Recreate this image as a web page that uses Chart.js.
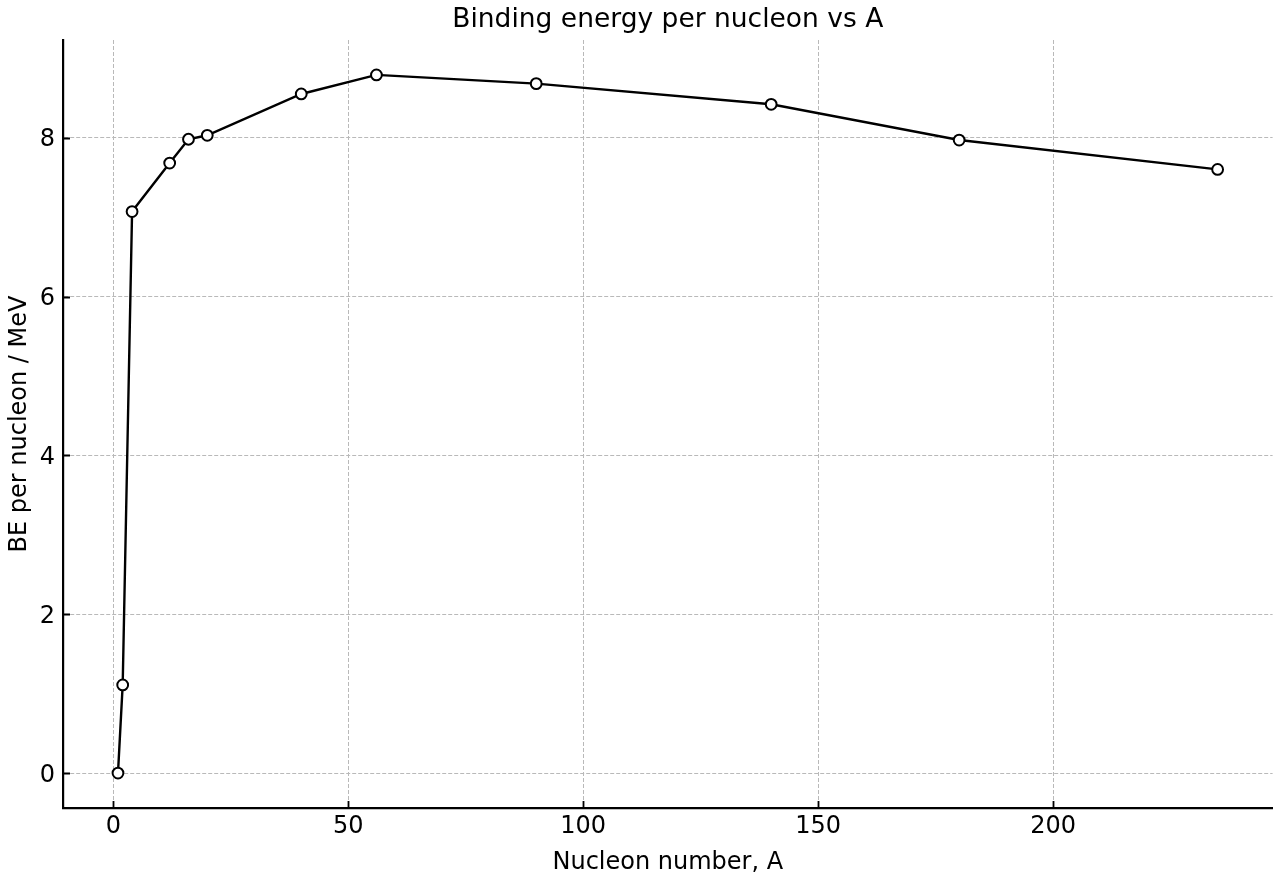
<!DOCTYPE html>
<html>
<head>
<meta charset="utf-8">
<script src="https://cdn.jsdelivr.net/npm/chart.js@4/dist/chart.umd.min.js"></script>
<style>
  html, body { margin: 0; padding: 0; background: #fff; }
  #wrap { width: 1280px; height: 880px; }
</style>
</head>
<body>
<div id="wrap"><canvas id="beChart" width="1280" height="880"></canvas></div>
<script>
// mass number A and binding energy per nucleon (MeV)
const massNumbers = [1, 2, 4, 12, 16, 20, 40, 56, 90, 140, 180, 235];
const bindingEnergy = [0, 1.11, 7.07, 7.68, 7.98, 8.03, 8.55, 8.79, 8.68, 8.42, 7.97, 7.60];
const xTicks = [0, 50, 100, 150, 200];
const yTicks = [0, 2, 4, 6, 8];

// matplotlib style 5% margins around the data
function comMargem(valores) {
    const min = Math.min(...valores), max = Math.max(...valores);
    const m = (max - min) * 0.05;
    return { min: min - m, max: max + m };
}
const limX = comMargem(massNumbers);
const limY = comMargem(bindingEnergy);

const fonte = 'DejaVu Sans';

// ticks pointing into the plot, like the original
const ticksParaDentro = {
    id: 'ticksParaDentro',
    afterDraw(chart) {
        const { ctx, chartArea, scales: { x, y } } = chart;
        ctx.save();
        ctx.strokeStyle = '#000';
        ctx.lineWidth = 1.8;
        ctx.beginPath();
        xTicks.forEach(v => {
            const px = Math.round(x.getPixelForValue(v)) + 0.5;
            ctx.moveTo(px, chartArea.bottom);
            ctx.lineTo(px, chartArea.bottom - 7);
        });
        yTicks.forEach(v => {
            const py = Math.round(y.getPixelForValue(v)) + 0.5;
            ctx.moveTo(chartArea.left, py);
            ctx.lineTo(chartArea.left + 7, py);
        });
        ctx.stroke();
        ctx.restore();
    }
};

const gradeComum = {
    color: '#b9b9b9',
    lineWidth: 1,
    drawTicks: false
};

new Chart(document.getElementById('beChart'), {
    type: 'line',
    data: {
        datasets: [{
            data: massNumbers.map((a, i) => ({ x: a, y: bindingEnergy[i] })),
            borderColor: '#000',
            borderWidth: 2.4,
            pointRadius: 5.4,
            pointBorderWidth: 2,
            pointBackgroundColor: '#fff',
            pointBorderColor: '#000',
            tension: 0
        }]
    },
    options: {
        responsive: false,
        animation: false,
        layout: { padding: { left: 0, right: 7, top: 0, bottom: 0 } },
        plugins: {
            legend: { display: false },
            tooltip: { enabled: false },
            title: {
                display: true,
                fullSize: false,
                text: 'Binding energy per nucleon vs A',
                color: '#000',
                font: { family: fonte, size: 26.5, weight: 'normal' },
                padding: { top: 4.3, bottom: 3.9 }
            }
        },
        scales: {
            x: {
                type: 'linear',
                min: limX.min,
                max: limX.max,
                afterBuildTicks: s => { s.ticks = xTicks.map(v => ({ value: v })); },
                afterFit: s => { s.height = 72; },
                grid: gradeComum,
                border: { display: true, color: '#000', width: 2.2, dash: [4, 2] },
                ticks: {
                    color: '#000',
                    padding: 4,
                    maxRotation: 0,
                    font: { family: fonte, size: 24 }
                },
                title: {
                    display: true,
                    text: 'Nucleon number, A',
                    color: '#000',
                    font: { family: fonte, size: 24 },
                    padding: { top: 0, bottom: 3 }
                }
            },
            y: {
                min: limY.min,
                max: limY.max,
                afterBuildTicks: s => { s.ticks = yTicks.map(v => ({ value: v })); },
                afterFit: s => { s.width = 63; },
                grid: gradeComum,
                border: { display: true, color: '#000', width: 2.2, dash: [4, 2] },
                ticks: {
                    color: '#000',
                    padding: 8,
                    labelOffset: 2.5,
                    font: { family: fonte, size: 24 }
                },
                title: {
                    display: true,
                    text: 'BE per nucleon / MeV',
                    color: '#000',
                    font: { family: fonte, size: 24 },
                    padding: { top: 5.3, bottom: 0 }
                }
            }
        }
    },
    plugins: [ticksParaDentro]
});
</script>
</body>
</html>
